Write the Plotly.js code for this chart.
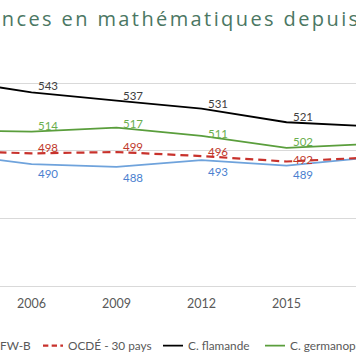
<!DOCTYPE html>
<html>
<head>
<meta charset="utf-8">
<script src="https://cdn.plot.ly/plotly-3.0.1.min.js"></script>
<style>
  html, body { margin: 0; padding: 0; overflow: hidden; background: #fff; }
  #chart { position: absolute; left: -150px; top: 0; width: 614px; height: 364px; }
  .gtitle { letter-spacing: 2.4px; }
  .legendlines path { transform-origin: 0 0; transform: translateX(11.667px) scaleX(0.6667); }
</style>
</head>
<body>
<div id="chart"></div>
<script>
// ---- data ----
const years = ["2003", "2006", "2009", "2012", "2015", "2018"];
const seriesNames = ["FW-B", "OCDÉ - 30 pays", "C. flamande", "C. germanophone"];
const fwb = [498, 490, 488, 493, 489, 495];
const ocde = [500, 498, 499, 496, 492, 495];
const flamande = [553, 543, 537, 531, 521, 518];
const germano = [515, 514, 517, 511, 502, 505];
const titleText = "Performances en mathématiques depuis 2003";

// ---- styles ----
const OFFSET = 150;      // div is shifted left by this many px
const FULLW = 614;
const lineColors = ["#6fa3dc", "#c8322c", "#000000", "#5a9e3c"];
const labelColors = ["#4a7fcf", "#c0392b", "#404040", "#6aae4e"];
const dashes = ["solid", "8px,5px", "solid", "solid"];
const widths = [1.8, 2.2, 1.8, 1.8];
// vertical offsets (px) of the value labels, per series and point
const labelShifts = [
  [-10, -9, -10.5, -11, -9, -10],
  [5.5, 6, 6, 5, 2.5, 5.5],
  [6, 6.5, 5, 5, 5.5, 6],
  [5, 6, 4.6, 2.7, 6, 5]
];
const legendTextX = [0, 68, 188, 290];   // page x where each legend text starts
const allSeries = [fwb, ocde, flamande, germano];
const legendIds = ["legend", "legend2", "legend3", "legend4"];

const traces = allSeries.map((vals, i) => ({
  type: "scatter",
  mode: "lines",
  x: years,
  y: vals,
  name: seriesNames[i],
  legend: legendIds[i],
  line: { color: lineColors[i], width: widths[i], dash: dashes[i] },
  hoverinfo: "skip"
}));

const annotations = [];
allSeries.forEach((vals, i) => {
  vals.forEach((v, j) => {
    annotations.push({
      x: j, y: v, xref: "x", yref: "y",
      text: String(v), showarrow: false,
      xanchor: "center", yanchor: "middle",
      xshift: 16, yshift: labelShifts[i][j],
      font: { family: "Lato, sans-serif", size: 11.5, color: labelColors[i] }
    });
  });
});

const legendFont = { family: "Lato, sans-serif", size: 11.8, color: "#595959" };

const layout = {
  width: FULLW,
  height: 364,
  margin: { l: 54, r: 50, t: 69, b: 78 },
  paper_bgcolor: "#ffffff",
  plot_bgcolor: "#ffffff",
  title: {
    text: titleText,
    font: { family: "Open Sans, sans-serif", size: 20, color: "#4b7763" },
    x: 0.5, xref: "paper", xanchor: "center",
    y: 1 - 19 / 364, yref: "container", yanchor: "middle"
  },
  showlegend: true,
  xaxis: {
    type: "category",
    range: [-0.5, 5.5],
    showgrid: false,
    zeroline: false,
    showline: true,
    linecolor: "#d9d9d9",
    linewidth: 1,
    ticks: "",
    ticklabelstandoff: 6,
    tickfont: { family: "Lato, sans-serif", size: 12.5, color: "#595959" },
    fixedrange: true
  },
  yaxis: {
    range: [400, 400 + 217 / 1.3533],
    tick0: 400,
    dtick: 50,
    showgrid: true,
    gridcolor: "#d9d9d9",
    gridwidth: 1,
    zeroline: false,
    showline: false,
    showticklabels: false,
    ticks: "",
    fixedrange: true
  },
  annotations: annotations
};

legendIds.forEach((id, i) => {
  layout[id] = {
    orientation: "h",
    xref: "container", yref: "container",
    x: (legendTextX[i] - 40 + OFFSET) / FULLW, xanchor: "left",
    y: (364 - 345.7) / 364, yanchor: "middle",
    font: legendFont,
    bgcolor: "rgba(0,0,0,0)",
    borderwidth: 0
  };
});

Plotly.newPlot("chart", traces, layout, { displayModeBar: false, staticPlot: true });
</script>
</body>
</html>
